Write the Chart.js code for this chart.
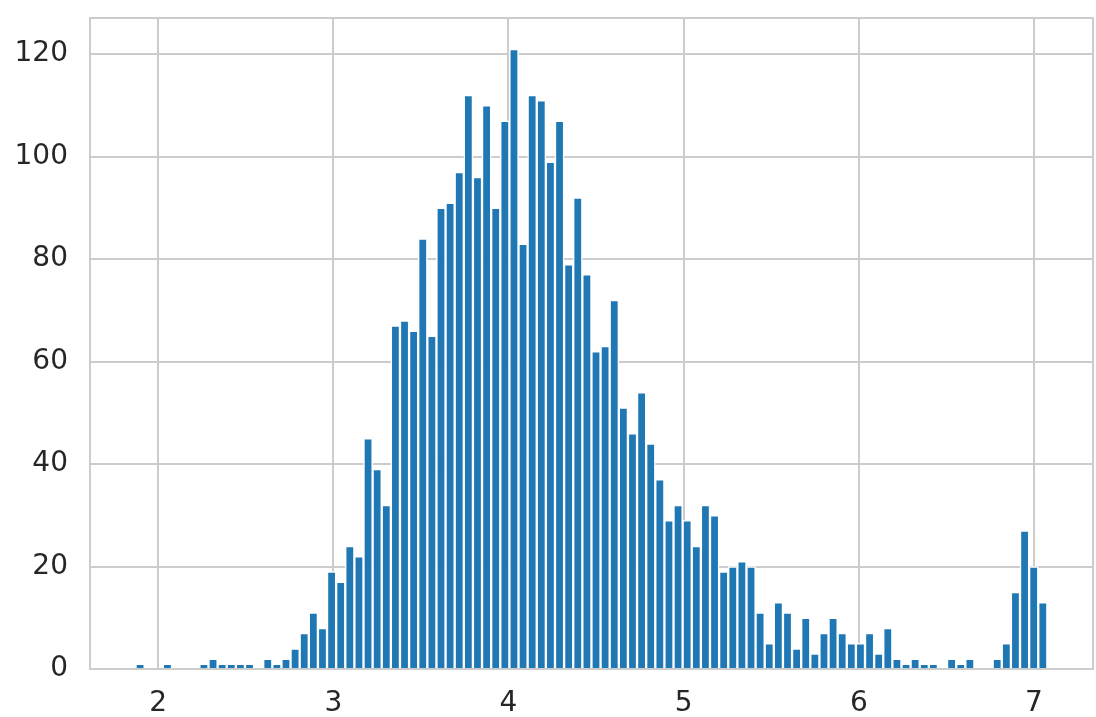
<!DOCTYPE html>
<html>
<head>
<meta charset="utf-8">
<script src="https://cdn.jsdelivr.net/npm/chart.js@4/dist/chart.umd.min.js"></script>
<style>
  html, body { margin: 0; padding: 0; background: #fff; }
  #wrap { width: 1096px; height: 717px; }
</style>
</head>
<body>
<div id="wrap"><canvas id="hist"></canvas></div>
<script>
// histogram: 100 bins, counts
const binStart = 1.871;
const binWidth = 0.052055;
const counts = [
  1, 0, 0, 1, 0, 0, 0, 1, 2, 1,
  1, 1, 1, 0, 2, 1, 2, 4, 7, 11,
  8, 19, 17, 24, 22, 45, 39, 32, 67, 68,
  66, 84, 65, 90, 91, 97, 112, 96, 110, 90,
  107, 121, 83, 112, 111, 99, 107, 79, 92, 77,
  62, 63, 72, 51, 46, 54, 44, 37, 29, 32,
  29, 24, 32, 30, 19, 20, 21, 20, 11, 5,
  13, 11, 4, 10, 3, 7, 10, 7, 5, 5,
  7, 3, 8, 2, 1, 2, 1, 1, 0, 2,
  1, 2, 0, 0, 2, 5, 15, 27, 20, 13
];
const xTicks = [2, 3, 4, 5, 6, 7];
const yTicks = [0, 20, 40, 60, 80, 100, 120];

const points = counts.map((c, i) => ({ x: binStart + binWidth * (i + 0.5), y: c }));

const gridCol = '#cccccc';
const textCol = '#262626';

// light frame around the plot area, like the seaborn whitegrid spines
const frame = {
  id: 'frame',
  afterDatasetsDraw(chart) {
    const a = chart.chartArea, c = chart.ctx;
    c.save();
    c.strokeStyle = gridCol;
    c.lineWidth = 2;
    c.strokeRect(a.left, a.top, a.right - a.left, a.bottom - a.top);
    c.restore();
  }
};

new Chart(document.getElementById('hist'), {
  type: 'bar',
  data: {
    datasets: [{
      data: points,
      backgroundColor: '#1f77b4',
      borderColor: '#ffffff',
      borderWidth: 1.5,
      barPercentage: 1,
      categoryPercentage: 1
    }]
  },
  options: {
    responsive: true,
    maintainAspectRatio: false,
    animation: false,
    layout: { padding: { top: 18, right: 3, left: 0, bottom: 0 } },
    plugins: { legend: { display: false }, tooltip: { enabled: false } },
    scales: {
      x: {
        type: 'linear',
        min: 1.611,
        max: 7.337,
        offset: false,
        afterBuildTicks: s => { s.ticks = xTicks.map(v => ({ value: v })); },
        afterFit: s => { s.height = 48; s.paddingLeft = 0; s.paddingRight = 0; },
        grid: { color: gridCol, lineWidth: 2, drawTicks: false, offset: false },
        border: { display: false },
        ticks: { color: textCol, font: { family: 'DejaVu Sans', size: 28 }, padding: 18, maxRotation: 0 }
      },
      y: {
        min: 0,
        max: 127.05,
        afterBuildTicks: s => { s.ticks = yTicks.map(v => ({ value: v })); },
        afterFit: s => { s.width = 90; s.paddingTop = 0; s.paddingBottom = 0; },
        grid: { color: gridCol, lineWidth: 2, drawTicks: false },
        border: { display: false },
        ticks: { color: textCol, font: { family: 'DejaVu Sans', size: 28 }, padding: 22 }
      }
    }
  },
  plugins: [frame]
});
</script>
</body>
</html>
